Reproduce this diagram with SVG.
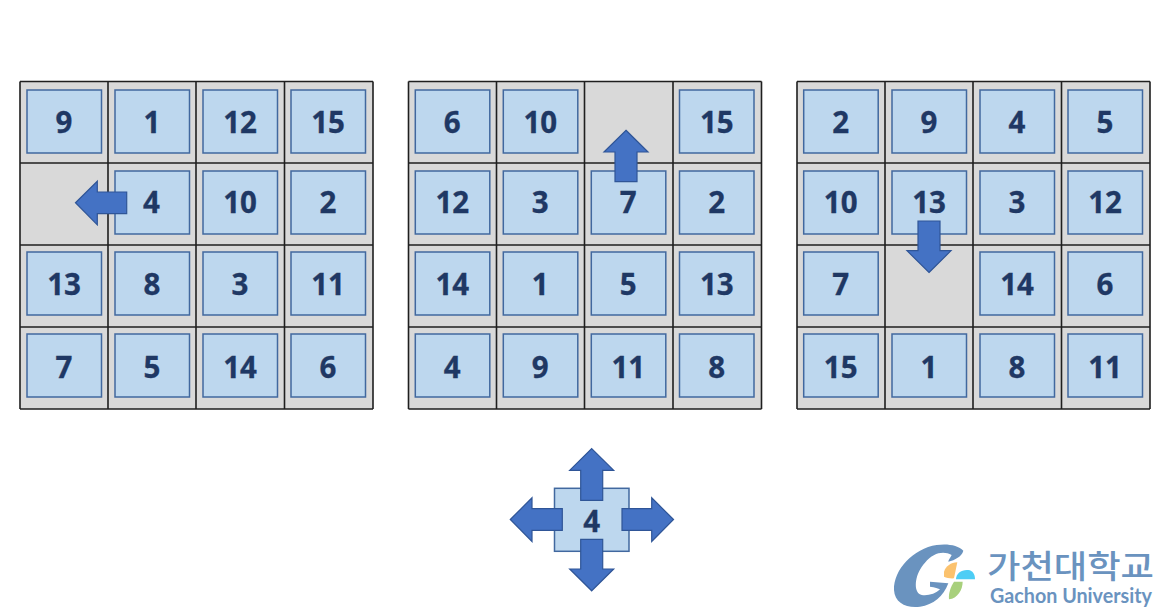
<svg xmlns="http://www.w3.org/2000/svg" width="1161" height="616" viewBox="0 0 1161 616">
<style>
.board{fill:#d9d9d9;stroke:none}
.grid{fill:none;stroke:#1f1f1f;stroke-width:1.6}
.tile{fill:#bdd7ee;stroke:#41689f;stroke-width:1.5}
.num{font-family:"Open Sans","Noto Sans",sans-serif;font-weight:700;font-size:29.5px;fill:#1f3864;text-anchor:middle;stroke:#1f3864;stroke-width:.3}
.arrow{fill:#4472c4;stroke:#2f5597;stroke-width:1.2;stroke-linejoin:miter}
.logo{fill:#6a93bf}
</style>
<defs>
<path id="gridlines" class="grid" d="M0 81.5H353M0 163H353M0 245H353M0 327H353M0 409H353M0 81.5V409M88 81.5V409M176 81.5V409M264.5 81.5V409M353 81.5V409"/>
<rect id="t" class="tile" width="74.5" height="63"/>
</defs>
<g id="board-left">
<rect class="board" x="20" y="81.5" width="353" height="327.5"/>
<use href="#gridlines" x="20"/>
<g id="l-9"><use href="#t" x="27" y="90"/><text class="num" x="64" y="133.3">9</text></g>
<g id="l-1"><use href="#t" x="115" y="90"/><text class="num" x="152" y="133.3">1</text></g>
<g id="l-12"><use href="#t" x="203" y="90"/><text class="num" x="240" y="133.3">12</text></g>
<g id="l-15"><use href="#t" x="291" y="90"/><text class="num" x="328" y="133.3">15</text></g>
<g id="l-4"><use href="#t" x="115" y="171"/><text class="num" x="151.5" y="213.3">4</text></g>
<g id="l-10"><use href="#t" x="203" y="171"/><text class="num" x="240" y="213.3">10</text></g>
<g id="l-2"><use href="#t" x="291" y="171"/><text class="num" x="328" y="213.3">2</text></g>
<g id="l-13"><use href="#t" x="27" y="252"/><text class="num" x="64" y="295.3">13</text></g>
<g id="l-8"><use href="#t" x="115" y="252"/><text class="num" x="152" y="295.3">8</text></g>
<g id="l-3"><use href="#t" x="203" y="252"/><text class="num" x="240" y="295.3">3</text></g>
<g id="l-11"><use href="#t" x="291" y="252"/><text class="num" x="328" y="295.3">11</text></g>
<g id="l-7"><use href="#t" x="27" y="334"/><text class="num" x="64" y="378.3">7</text></g>
<g id="l-5"><use href="#t" x="115" y="334"/><text class="num" x="152" y="378.3">5</text></g>
<g id="l-14"><use href="#t" x="203" y="334"/><text class="num" x="240" y="378.3">14</text></g>
<g id="l-6"><use href="#t" x="291" y="334"/><text class="num" x="328" y="378.3">6</text></g>
</g>
<g id="board-middle">
<rect class="board" x="408.5" y="81.5" width="353" height="327.5"/>
<use href="#gridlines" x="408.5"/>
<g id="m-6"><use href="#t" x="415.3" y="90"/><text class="num" x="452.3" y="133.3">6</text></g>
<g id="m-10"><use href="#t" x="503.3" y="90"/><text class="num" x="540.3" y="133.3">10</text></g>
<g id="m-15"><use href="#t" x="679.5" y="90"/><text class="num" x="716.8" y="133.3">15</text></g>
<g id="m-12"><use href="#t" x="415.3" y="171"/><text class="num" x="452.3" y="213.3">12</text></g>
<g id="m-3"><use href="#t" x="503.3" y="171"/><text class="num" x="540.3" y="213.3">3</text></g>
<g id="m-7"><use href="#t" x="591.3" y="171"/><text class="num" x="628.3" y="213.3">7</text></g>
<g id="m-2"><use href="#t" x="679.5" y="171"/><text class="num" x="716.8" y="213.3">2</text></g>
<g id="m-14"><use href="#t" x="415.3" y="252"/><text class="num" x="452.3" y="295.3">14</text></g>
<g id="m-1"><use href="#t" x="503.3" y="252"/><text class="num" x="540.3" y="295.3">1</text></g>
<g id="m-5"><use href="#t" x="591.3" y="252"/><text class="num" x="628.3" y="295.3">5</text></g>
<g id="m-13"><use href="#t" x="679.5" y="252"/><text class="num" x="716.8" y="295.3">13</text></g>
<g id="m-4"><use href="#t" x="415.3" y="334"/><text class="num" x="452.3" y="378.3">4</text></g>
<g id="m-9"><use href="#t" x="503.3" y="334"/><text class="num" x="540.3" y="378.3">9</text></g>
<g id="m-11"><use href="#t" x="591.3" y="334"/><text class="num" x="628.3" y="378.3">11</text></g>
<g id="m-8"><use href="#t" x="679.5" y="334"/><text class="num" x="716.8" y="378.3">8</text></g>
</g>
<g id="board-right">
<rect class="board" x="797" y="81.5" width="353" height="327.5"/>
<use href="#gridlines" x="797"/>
<g id="r-2"><use href="#t" x="803.7" y="90"/><text class="num" x="840.7" y="133.3">2</text></g>
<g id="r-9"><use href="#t" x="892" y="90"/><text class="num" x="929" y="133.3">9</text></g>
<g id="r-4"><use href="#t" x="980" y="90"/><text class="num" x="1017" y="133.3">4</text></g>
<g id="r-5"><use href="#t" x="1068" y="90"/><text class="num" x="1105" y="133.3">5</text></g>
<g id="r-10"><use href="#t" x="803.7" y="171"/><text class="num" x="840.7" y="213.3">10</text></g>
<g id="r-13"><use href="#t" x="892" y="171"/><text class="num" x="929" y="213.3">13</text></g>
<g id="r-3"><use href="#t" x="980" y="171"/><text class="num" x="1017" y="213.3">3</text></g>
<g id="r-12"><use href="#t" x="1068" y="171"/><text class="num" x="1105" y="213.3">12</text></g>
<g id="r-7"><use href="#t" x="803.7" y="252"/><text class="num" x="840.7" y="295.3">7</text></g>
<g id="r-14"><use href="#t" x="980" y="252"/><text class="num" x="1017" y="295.3">14</text></g>
<g id="r-6"><use href="#t" x="1068" y="252"/><text class="num" x="1105" y="295.3">6</text></g>
<g id="r-15"><use href="#t" x="803.7" y="334"/><text class="num" x="840.7" y="378.3">15</text></g>
<g id="r-1"><use href="#t" x="892" y="334"/><text class="num" x="929" y="378.3">1</text></g>
<g id="r-8"><use href="#t" x="980" y="334"/><text class="num" x="1017" y="378.3">8</text></g>
<g id="r-11"><use href="#t" x="1068" y="334"/><text class="num" x="1105" y="378.3">11</text></g>
</g>
<g id="legend-tile"><use href="#t" x="554.5" y="488.3"/><text class="num" x="591.7" y="531.5">4</text></g>
<g id="connectors">
<path class="arrow" d="M75.5 202.7L97.3 181.2V192H126.7V213.7H97.3V224.8Z"/>
<path class="arrow" d="M626 130.3L648 152H637V181.7H615V152H604Z"/>
<path class="arrow" d="M929 272.5L951 250.7H940V221H918V250.7H907Z"/>
<path class="arrow" d="M591.7 448.6L613.7 470.3H602.7V500.3H580.7V470.3H569.7Z"/>
<path class="arrow" d="M591.7 590.8L613.7 569H602.7V539.3H580.7V569H569.7Z"/>
<path class="arrow" d="M510.3 519.5L532 497.8V508.7H562.3V530.3H532V541.5Z"/>
<path class="arrow" d="M673.5 519.5L651.7 497.8V508.7H622V530.3H651.7V541.5Z"/>
</g>
<g id="logo">
<g transform="translate(880 530) scale(.33333)">
<path class="logo" d="M250 62C235 45 200 40 170 45C100 55 40 120 42 180C44 220 80 235 120 230C160 225 190 200 205 160L150 155L150 170C165 172 175 175 180 178C165 195 130 200 118 192C100 178 105 130 135 98C160 68 190 62 215 75C210 85 205 90 205 95C225 90 245 80 250 62Z"/>
<path fill="#fbc26e" d="M192 125C198 108 212 98 232 97L222 145C210 146 200 143 192 140Z"/>
<path fill="#4dcdf5" d="M228 148C228 130 245 118 265 120C278 122 285 132 285 148Z"/>
<path fill="#a8d07c" d="M222 155H248C248 180 232 205 207 208C205 190 212 170 222 155Z"/>
</g>
<text class="logo" x="987" y="578" font-family="'Noto Sans CJK KR',sans-serif" font-weight="500" font-size="32" textLength="167" lengthAdjust="spacingAndGlyphs">가천대학교</text>
<text class="logo" x="990" y="603" font-family="Lato,'Open Sans',sans-serif" font-weight="700" font-size="20" textLength="162" lengthAdjust="spacingAndGlyphs">Gachon University</text>
</g>
</svg>
